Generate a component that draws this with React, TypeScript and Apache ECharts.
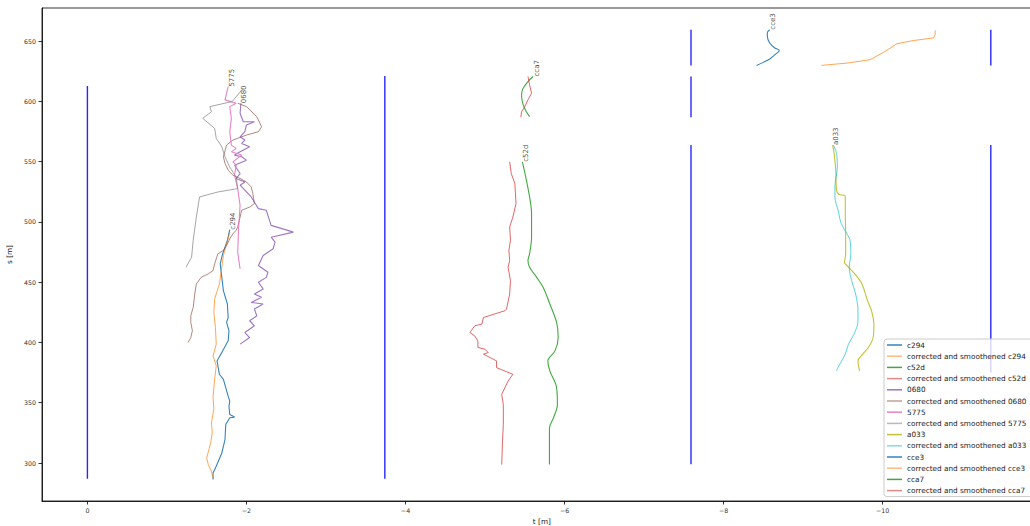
import React, { useEffect, useRef } from "react";
import * as echarts from "echarts";

// ---- data (t [m], s [m]) ----
const c294 = [[-1.79,493.5],[-1.76,484.6],[-1.70,473.5],[-1.67,465.2],[-1.69,454.0],[-1.71,443.0],[-1.76,431.9],[-1.77,420.7],[-1.75,416.6],[-1.78,409.7],[-1.77,401.4],[-1.70,393.0],[-1.63,384.7],[-1.66,373.6],[-1.71,369.4],[-1.77,355.5],[-1.79,351.3],[-1.78,347.2],[-1.79,340.3],[-1.85,338.1],[-1.79,337.5],[-1.74,332.0],[-1.73,319.5],[-1.69,308.3],[-1.62,297.3],[-1.58,291.7],[-1.58,286.4]];
const corC294 = [[-1.79,491.5],[-1.75,481.8],[-1.71,472.1],[-1.69,462.4],[-1.66,448.5],[-1.60,436.1],[-1.59,424.9],[-1.61,412.4],[-1.62,398.6],[-1.58,388.8],[-1.62,380.5],[-1.60,369.4],[-1.58,355.5],[-1.59,345.0],[-1.56,333.3],[-1.57,325.0],[-1.55,316.7],[-1.50,304.2],[-1.52,298.7],[-1.56,293.1],[-1.58,287.3]];
const c52d = [[-5.47,549.8],[-5.52,534.6],[-5.56,520.7],[-5.585,506.8],[-5.585,487.3],[-5.56,473.5],[-5.54,467.9],[-5.56,462.4],[-5.65,454.0],[-5.73,445.7],[-5.815,431.9],[-5.90,416.6],[-5.92,404.1],[-5.88,393.0],[-5.79,384.7],[-5.815,376.4],[-5.90,362.4],[-5.91,348.6],[-5.86,337.5],[-5.81,329.1],[-5.81,318.1],[-5.81,298.7]];
const corC52d = [[-5.31,549.8],[-5.33,540.1],[-5.375,531.8],[-5.39,515.2],[-5.35,504.0],[-5.31,495.7],[-5.32,484.6],[-5.30,476.3],[-5.31,468.0],[-5.29,462.4],[-5.32,451.3],[-5.31,440.2],[-5.27,427.7],[-5.25,426.3],[-4.98,420.7],[-4.96,415.2],[-4.87,413.8],[-4.81,408.2],[-4.87,405.5],[-4.91,401.3],[-4.91,395.8],[-5.00,394.4],[-5.04,391.6],[-4.98,390.3],[-5.145,384.7],[-5.145,379.1],[-5.35,373.6],[-5.29,368.0],[-5.21,357.0],[-5.23,348.6],[-5.23,332.0],[-5.22,318.1],[-5.21,298.7]];
const s0680 = [[-1.93,598.4],[-1.92,590.1],[-1.96,583.1],[-2.10,583.1],[-2.00,580.4],[-1.98,574.8],[-1.92,570.6],[-1.98,567.9],[-1.94,565.1],[-2.04,562.3],[-1.92,558.1],[-1.85,555.4],[-1.94,554.0],[-2.00,551.2],[-1.85,547.0],[-1.92,540.1],[-1.87,536.0],[-1.98,533.1],[-1.92,530.4],[-2.06,520.7],[-2.15,511.0],[-2.25,509.6],[-2.31,497.1],[-2.59,491.5],[-2.31,487.3],[-2.36,483.2],[-2.335,477.7],[-2.21,472.1],[-2.15,463.8],[-2.27,458.2],[-2.25,454.0],[-2.15,449.9],[-2.21,444.4],[-2.10,440.2],[-2.19,437.4],[-2.06,433.2],[-2.21,431.9],[-2.10,427.7],[-2.13,422.1],[-2.04,418.0],[-2.10,413.8],[-1.98,408.2],[-2.04,404.1],[-1.92,398.6]];
const corS0680 = [[-1.89,598.4],[-2.00,595.6],[-2.13,587.3],[-2.19,578.9],[-2.15,574.8],[-2.00,572.0],[-1.83,567.9],[-1.75,563.7],[-1.71,554.0],[-1.73,548.5],[-1.77,542.9],[-1.83,538.7],[-1.92,536.0],[-2.00,533.1],[-2.06,529.0],[-2.08,523.5],[-2.10,515.2],[-2.04,512.3],[-1.94,509.6],[-1.92,504.0],[-1.89,495.7],[-1.87,493.0],[-1.83,490.2],[-1.79,486.0],[-1.75,480.4],[-1.71,476.3],[-1.64,473.5],[-1.60,465.2],[-1.58,459.6],[-1.52,456.9],[-1.43,454.0],[-1.37,448.5],[-1.35,440.2],[-1.33,429.1],[-1.30,422.1],[-1.30,416.6],[-1.32,409.7],[-1.30,404.1],[-1.265,399.9]];
const s5775 = [[-1.77,612.2],[-1.73,601.2],[-1.87,598.4],[-1.79,595.6],[-1.81,585.9],[-1.79,574.8],[-1.81,563.7],[-1.87,561.0],[-1.81,558.1],[-1.94,555.4],[-1.83,549.8],[-1.87,547.0],[-1.85,538.7],[-1.89,527.6],[-1.92,513.7],[-1.90,492.9],[-1.89,474.9],[-1.92,461.0]];
const corS5775 = [[-1.96,610.9],[-1.82,599.8],[-1.54,595.6],[-1.56,591.4],[-1.45,585.9],[-1.50,583.1],[-1.60,577.6],[-1.62,569.3],[-1.69,562.3],[-1.73,554.0],[-1.79,545.4],[-1.87,537.1],[-1.89,527.6],[-1.64,524.8],[-1.41,520.7],[-1.37,504.0],[-1.33,484.6],[-1.31,470.7],[-1.24,462.4]];
const a033 = [[-9.37,563.7],[-9.39,556.8],[-9.41,542.9],[-9.42,526.3],[-9.45,522.9],[-9.53,521.2],[-9.53,506.8],[-9.535,490.2],[-9.535,473.5],[-9.52,466.5],[-9.57,462.4],[-9.65,456.9],[-9.74,448.5],[-9.81,434.6],[-9.86,426.3],[-9.89,415.2],[-9.88,404.1],[-9.82,395.8],[-9.75,390.3],[-9.69,384.7],[-9.71,376.4]];
const corA033 = [[-9.38,563.7],[-9.42,556.8],[-9.43,545.6],[-9.40,529.0],[-9.40,520.7],[-9.44,509.6],[-9.48,498.5],[-9.55,490.2],[-9.59,484.6],[-9.60,473.5],[-9.58,462.4],[-9.61,451.3],[-9.66,440.2],[-9.69,426.3],[-9.69,418.0],[-9.64,406.9],[-9.57,398.6],[-9.53,390.3],[-9.46,381.9],[-9.42,376.4]];
const cce3 = [[-8.58,659.4],[-8.55,656.9],[-8.55,653.9],[-8.58,648.4],[-8.645,644.2],[-8.70,642.2],[-8.645,638.7],[-8.58,635.1],[-8.50,632.3],[-8.415,629.8]];
const corCce3 = [[-10.67,659.0],[-10.66,658.2],[-10.66,655.4],[-10.64,652.6],[-10.385,650.4],[-10.18,647.8],[-10.01,640.6],[-9.84,634.5],[-9.55,631.7],[-9.23,629.8]];
const cca7 = [[-5.605,620.6],[-5.54,616.4],[-5.47,609.5],[-5.46,603.9],[-5.48,597.0],[-5.52,591.4],[-5.56,587.3]];
const corCca7 = [[-5.54,620.6],[-5.56,613.7],[-5.585,606.7],[-5.54,601.2],[-5.50,595.6],[-5.46,591.4],[-5.45,586.8]];

// lane markers: t, s_from, s_to
const laneSegments = [
  [0, 287, 612.8],
  [-3.74, 287, 621],
  [-7.59, 629.7, 659.4],
  [-7.59, 586.7, 620.5],
  [-7.59, 299, 563.7],
  [-11.36, 629.7, 659.4],
  [-11.36, 375, 563.7],
];

const xTicks = [0, -2, -4, -6, -8, -10];
const yTicks = [300, 350, 400, 450, 500, 550, 600, 650];

const tracks = [
  { name: "c294", data: c294, corrected: false, smooth: false },
  { name: "corrected and smoothened c294", data: corC294, corrected: true, smooth: false },
  { name: "c52d", data: c52d, corrected: false, smooth: true },
  { name: "corrected and smoothened c52d", data: corC52d, corrected: true, smooth: false },
  { name: "0680", data: s0680, corrected: false, smooth: false },
  { name: "corrected and smoothened 0680", data: corS0680, corrected: true, smooth: false },
  { name: "5775", data: s5775, corrected: false, smooth: false },
  { name: "corrected and smoothened 5775", data: corS5775, corrected: true, smooth: false },
  { name: "a033", data: a033, corrected: false, smooth: true },
  { name: "corrected and smoothened a033", data: corA033, corrected: true, smooth: true },
  { name: "cce3", data: cce3, corrected: false, smooth: true },
  { name: "corrected and smoothened cce3", data: corCce3, corrected: true, smooth: false },
  { name: "cca7", data: cca7, corrected: false, smooth: true },
  { name: "corrected and smoothened cca7", data: corCca7, corrected: true, smooth: false },
];

const palette = ["#1f77b4", "#ff7f0e", "#2ca02c", "#d62728", "#9467bd", "#8c564b", "#e377c2", "#7f7f7f", "#bcbd22", "#17becf"];
const FONT = "DejaVu Sans";

const fmt = (v: number) => (v < 0 ? "\u2212" + Math.abs(v) : String(v));

export default function App() {
  const ref = useRef<HTMLDivElement>(null);
  useEffect(() => {
    const chart = echarts.init(ref.current!, null, { renderer: "svg" });
    const laneSeries = laneSegments.map((seg, i) => ({
      name: "lane" + i,
      type: "line",
      data: [[seg[0], seg[1]], [seg[0], seg[2]]],
      symbol: "none",
      silent: true,
      z: 1,
      lineStyle: { color: "#0000ff", width: 1.4, opacity: 0.85 },
    }));
    const trackSeries = tracks.map((tr, i) => ({
      name: tr.name,
      type: "line",
      data: tr.data,
      symbol: "none",
      smooth: tr.smooth ? 0.35 : false,
      silent: true,
      z: 2,
      color: palette[i % palette.length],
      lineStyle: {
        color: palette[i % palette.length],
        width: tr.corrected ? 1.0 : 1.1,
        opacity: tr.corrected ? 0.7 : 0.9,
      },
    }));
    const labelSeries = {
      name: "labels",
      type: "scatter",
      symbolSize: 0,
      silent: true,
      z: 3,
      data: tracks.filter((t) => !t.corrected).map((t) => ({ name: t.name, value: t.data[0] })),
      label: {
        show: true,
        formatter: "{b}",
        position: "inside",
        rotate: 90,
        align: "left",
        verticalAlign: "top",
        fontSize: 7,
        fontFamily: FONT,
        color: "#222",
      },
    };
    chart.setOption({
      animation: false,
      backgroundColor: "#ffffff",
      grid: {
        left: 42,
        top: 8,
        width: 999.7,
        bottom: 25,
        show: true,
        borderColor: "#000",
        borderWidth: 0.8,
        containLabel: false,
        outerBoundsMode: "none",
      },
      xAxis: {
        type: "value",
        min: -12,
        max: 0.571,
        inverse: true,
        name: "t [m]",
        nameLocation: "middle",
        nameGap: 15,
        nameTextStyle: { fontSize: 7.3, fontFamily: FONT, color: "#222" },
        axisLine: { show: true, onZero: false, lineStyle: { color: "#000", width: 0.8 } },
        axisTick: { show: true, length: 3.5, customValues: xTicks, lineStyle: { color: "#000", width: 0.8 } },
        axisLabel: { customValues: xTicks, formatter: fmt, fontSize: 6.3, fontFamily: FONT, color: "#333", margin: 6 },
        splitLine: { show: false },
      },
      yAxis: {
        type: "value",
        min: 268.5,
        max: 677.4,
        name: "s [m]",
        nameLocation: "middle",
        nameGap: 19,
        nameTextStyle: { fontSize: 7.3, fontFamily: FONT, color: "#222" },
        axisLine: { show: true, onZero: false, lineStyle: { color: "#000", width: 0.8 } },
        axisTick: { show: true, length: 3.5, customValues: yTicks, lineStyle: { color: "#000", width: 0.8 } },
        axisLabel: { customValues: yTicks, formatter: fmt, fontSize: 6.3, fontFamily: FONT, color: "#333", margin: 6 },
        splitLine: { show: false },
      },
      legend: {
        orient: "vertical",
        left: 884,
        top: 339,
        data: tracks.map((t) => ({ name: t.name, itemStyle: { opacity: t.corrected ? 0.55 : 0.9 } })),
        icon: "rect",
        itemWidth: 15,
        itemHeight: 1.5,
        itemGap: 3.2,
        padding: [2, 8, 2, 3],
        selectedMode: false,
        backgroundColor: "rgba(255,255,255,0.8)",
        borderColor: "#cccccc",
        borderWidth: 1,
        borderRadius: 3,
        textStyle: { fontSize: 7.3, fontFamily: FONT, color: "#222", lineHeight: 8 },
      },
      series: [...laneSeries, ...trackSeries, labelSeries],
    });
    return () => chart.dispose();
  }, []);
  return <div ref={ref} style={{ position: "absolute", left: 0, top: 0, width: 1030, height: 526 }} />;
}
